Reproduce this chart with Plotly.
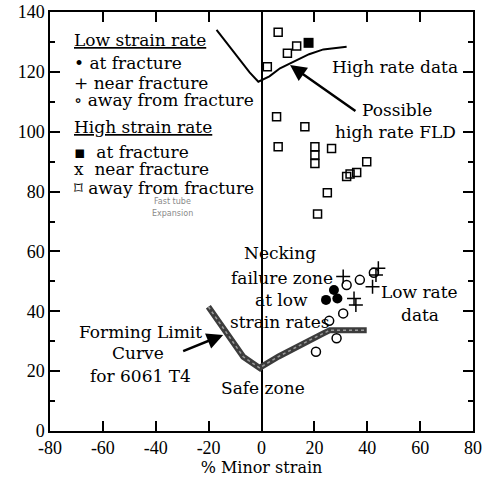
import plotly.graph_objects as go

# ---- data ----
low_frac_x = [24.4, 27.4, 28.7]
low_frac_y = [43.8, 47.1, 44.3]
low_near_x = [30.9, 35.0, 35.7, 42.0, 43.3, 44.2]
low_near_y = [51.6, 44.3, 42.1, 48.2, 52.1, 54.4]
low_away_x = [32.2, 37.2, 30.9, 25.6, 28.4, 20.6, 42.5]
low_away_y = [48.8, 50.5, 39.3, 36.8, 31.0, 26.5, 52.9]
high_frac_x = [17.8]
high_frac_y = [129.7]
high_away_x = [6.3, 13.3, 9.8, 2.2, 5.7, 6.3, 16.4, 20.2, 20.2, 20.2, 26.5, 39.8, 32.2, 33.5, 36.0, 24.9, 21.2]
high_away_y = [133.2, 128.6, 126.2, 121.7, 105.0, 95.0, 101.7, 95.0, 92.2, 89.4, 94.4, 90.0, 85.0, 85.9, 86.4, 79.6, 72.5]

flc_x = [-20.1, -13.2, -6.9, -0.6, 0.0, 6.5, 13.3, 18.5, 23.4, 25.9, 32.0, 39.8]
flc_y = [41.5, 32.6, 24.8, 21.0, 21.5, 24.9, 28.2, 30.5, 32.6, 33.7, 33.7, 33.7]
hfld_x = [-17.0, -12.5, -8.1, -4.5, -1.2, 3.0, 7.0, 13.3, 18.0, 23.4, 32.2]
hfld_y = [134.0, 128.8, 124.0, 119.8, 116.7, 118.5, 121.2, 124.0, 125.9, 127.5, 128.4]

x_ticks = [-80, -60, -40, -20, 0, 20, 40, 60, 80]
y_ticks = [0, 20, 40, 60, 80, 100, 120, 140]

legend_rows = ["<u>Low strain rate</u>", "\u2022 at fracture", "+ near fracture",
               "\u2218 away from fracture", "<u>High strain rate</u>",
               "\u25aa  at fracture", "x  near fracture", "\u2311 away from fracture"]
legend_y = [130.6, 123.0, 116.3, 110.6, 101.6, 93.2, 87.5, 81.2]

notes = ["High rate data", "Possible", "high rate FLD", "Necking", "failure zone",
         "at low", "strain rates", "Low rate", "data", "Forming Limit", "Curve",
         "for 6061 T4", "Safe zone"]
notes_x = [50.5, 51.2, 50.5, 7.0, 7.7, 7.4, 7.0, 59.9, 59.9, -45.6, -46.7, -45.6, 0.6]
notes_y = [121.6, 107.3, 99.9, 59.5, 51.1, 43.8, 36.4, 46.4, 38.8, 33.1, 26.1, 18.4, 14.4]

FONT = "DejaVu Serif"
TFONT = "Liberation Serif"

fig = go.Figure()
fig.add_trace(go.Scatter(x=flc_x, y=flc_y, mode="lines",
                         line=dict(color="#3c3c3c", width=6), hoverinfo="skip"))
fig.add_trace(go.Scatter(x=flc_x, y=flc_y, mode="lines",
                         line=dict(color="#9a9a9a", width=1.5, dash="dot"), hoverinfo="skip"))
fig.add_trace(go.Scatter(x=hfld_x, y=hfld_y, mode="lines",
                         line=dict(color="black", width=2)))
fig.add_trace(go.Scatter(x=high_away_x, y=high_away_y, mode="markers",
                         marker=dict(symbol="square-open", size=8, color="black", line=dict(width=1.5))))
fig.add_trace(go.Scatter(x=high_frac_x, y=high_frac_y, mode="markers",
                         marker=dict(symbol="square", size=10, color="black")))
fig.add_trace(go.Scatter(x=low_frac_x, y=low_frac_y, mode="markers",
                         marker=dict(symbol="circle", size=10, color="black")))
fig.add_trace(go.Scatter(x=low_away_x, y=low_away_y, mode="markers",
                         marker=dict(symbol="circle-open", size=9, color="black", line=dict(width=1.5))))
fig.add_trace(go.Scatter(x=low_near_x, y=low_near_y, mode="markers",
                         marker=dict(symbol="cross-thin", size=10, color="black", line=dict(width=1.5, color="black"))))

for t, yy in zip(legend_rows, legend_y):
    fig.add_annotation(x=-71.5, y=yy, text=t, showarrow=False, xanchor="left", yanchor="middle",
                       font=dict(family=FONT, size=17, color="black"))
for t, xx, yy in zip(notes, notes_x, notes_y):
    fig.add_annotation(x=xx, y=yy, text=t, showarrow=False, xanchor="center", yanchor="middle",
                       font=dict(family=FONT, size=17, color="black"))
fig.add_annotation(x=-33.5, y=76.8, text="Fast tube", showarrow=False,
                   font=dict(family="DejaVu Sans", size=8, color="#8a8a8a"))
fig.add_annotation(x=-33.5, y=72.8, text="Expansion", showarrow=False,
                   font=dict(family="DejaVu Sans", size=8, color="#8a8a8a"))
# arrows
fig.add_annotation(x=10.8, y=122.3, ax=36.1, ay=106.6, xref="x", yref="y", axref="x", ayref="y",
                   text="", showarrow=True, arrowhead=2, arrowsize=1.3, arrowwidth=2.5, arrowcolor="black")
fig.add_annotation(x=-14.5, y=32.1, ax=-30.2, ay=26.5, xref="x", yref="y", axref="x", ayref="y",
                   text="", showarrow=True, arrowhead=2, arrowsize=1.3, arrowwidth=2.5, arrowcolor="black")

fig.update_layout(
    width=489, height=481, showlegend=False,
    margin=dict(l=50, r=16, t=12, b=50),
    paper_bgcolor="white", plot_bgcolor="white",
    xaxis=dict(range=[-80, 80], tickvals=x_ticks, ticktext=[str(v) for v in x_ticks],
               ticks="inside", ticklen=10, tickwidth=1.5, tickcolor="black",
               showline=True, linecolor="black", linewidth=1.5, mirror="ticks",
               showgrid=False, zeroline=True, zerolinecolor="black", zerolinewidth=1.5,
               automargin=False,
               tickfont=dict(family=TFONT, size=18, color="black"),
               title=dict(text="% Minor strain", font=dict(family=FONT, size=16, color="black"), standoff=2)),
    yaxis=dict(range=[0, 140], tickvals=y_ticks, ticktext=[str(v) for v in y_ticks],
               ticks="inside", ticklen=10, tickwidth=1.5, tickcolor="black",
               minor=dict(ticks="inside", dtick=10, ticklen=5, tickwidth=1.5, tickcolor="black"),
               showline=True, linecolor="black", linewidth=1.5, mirror="ticks",
               showgrid=False, zeroline=False, automargin=False,
               tickfont=dict(family=TFONT, size=18, color="black")),
)
fig.write_html("out.html", config={"displayModeBar": False},
               post_script="document.body.style.margin='0';")
